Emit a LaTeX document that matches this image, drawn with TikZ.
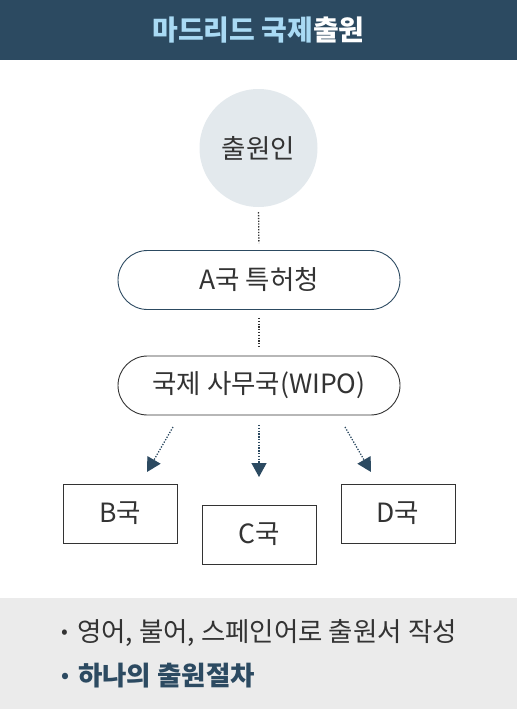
\documentclass[tikz,border=0pt]{standalone}
\usepackage{fontspec}
\setmainfont{Noto Sans CJK KR}
\usetikzlibrary{arrows.meta}
\definecolor{hdr}{HTML}{2C4A61}
\definecolor{ttl}{HTML}{A9DAF4}
\definecolor{circ}{HTML}{E3E9ED}
\definecolor{band}{HTML}{EBEBEB}
\definecolor{txt}{HTML}{333333}
\newcommand{\bodyfont}{\fontsize{26.5}{30}\selectfont}
\newcommand{\smbullet}{\raisebox{3.5pt}{\fontsize{20}{20}\selectfont\textbullet}\hspace{9pt}}
\tikzset{
  pill/.style={draw=#1, line width=0.9pt, rounded corners=29.5pt, minimum width=282pt, minimum height=59pt, inner sep=0pt, font=\bodyfont, text=txt},
  pill/.default=hdr,
  ctry/.style={draw=txt, line width=0.9pt, minimum width=114pt, minimum height=59pt, inner sep=0pt, font=\bodyfont, text=txt},
  dotline/.style={draw=txt, line width=1.3pt, dash pattern=on 1.3pt off 1.5pt},
  dotarrow/.style={draw=hdr, line width=1.3pt, dash pattern=on 1.3pt off 1.5pt, -{Triangle[length=14pt,width=15pt]}},
}
\begin{document}
\begin{tikzpicture}[x=1pt,y=-1pt]
\useasboundingbox (0,0) rectangle (517,709);
\fill[hdr] (0,0) rectangle (517,60);
\fill[band] (0,598) rectangle (517,709);
\node[font=\fontsize{28}{32}\selectfont\bfseries, inner sep=0pt] (title) at (258.5,30) {\textcolor{ttl}{마드리드 국제}\textcolor{white}{출원}};
\node[circle, fill=circ, minimum size=118pt, inner sep=0pt, font=\bodyfont, text=txt] (app) at (258.5,148) {출원인};
\node[pill=hdr] (a) at (259,280) {A국 특허청};
\node[pill=txt] (wipo) at (259,385.5) {국제 사무국(WIPO)};
\node[ctry] (b) at (120,513.5) {B국};
\node[ctry] (c) at (259,534.5) {C국};
\node[ctry] (d) at (398,513.5) {D국};
\draw[dotline, shorten <=5pt, shorten >=7pt] (app.south) -- (a.north);
\draw[dotline, shorten <=8pt, shorten >=8pt] (a.south) -- (wipo.north);
\coordinate (l1) at (173,427); \coordinate (l2) at (147,472);
\coordinate (c1) at (259,425); \coordinate (c2) at (259,477);
\coordinate (r1) at (345,427); \coordinate (r2) at (371,472);
\draw[dotarrow] (l1) -- (l2);
\draw[dotarrow] (c1) -- (c2);
\draw[dotarrow] (r1) -- (r2);
\node[anchor=west, font=\bodyfont, text=txt, inner sep=0pt] (t1) at (61,633) {\smbullet 영어, 불어, 스페인어로 출원서 작성};
\node[anchor=west, font=\bodyfont\bfseries, text=hdr, inner sep=0pt] (t2) at (61,676) {\smbullet 하나의 출원절차};
\end{tikzpicture}
\end{document}
